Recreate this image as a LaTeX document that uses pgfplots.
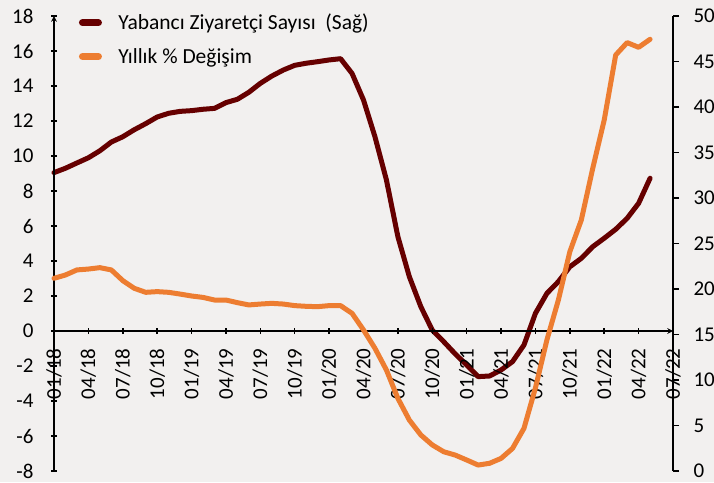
\documentclass[border=0pt]{standalone}
\usepackage{pgfplots}
\pgfplotsset{compat=1.18}
\usepackage{fontspec}
\setmainfont{Carlito}
\definecolor{dred}{RGB}{102,0,0}
\definecolor{lorange}{RGB}{237,125,49}
\definecolor{bgc}{RGB}{242,240,239}
\pgfplotstableread{
m v
0 32.79
1 33.27
2 33.85
3 34.42
4 35.19
5 36.15
6 36.73
7 37.50
8 38.17
9 38.90
10 39.31
11 39.52
12 39.60
13 39.75
14 39.85
15 40.48
16 40.85
17 41.62
18 42.60
19 43.40
20 44.06
21 44.58
22 44.81
23 44.98
24 45.17
25 45.31
26 43.69
27 40.77
28 36.73
29 31.98
30 25.75
31 21.35
32 18.06
33 15.48
34 14.21
35 12.87
36 11.65
37 10.37
38 10.44
39 11.10
40 12.02
41 13.85
42 17.33
43 19.52
44 20.81
45 22.44
46 23.37
47 24.65
48 25.58
49 26.56
50 27.77
51 29.42
52 32.17
}\visitors
\pgfplotstableread{
m v
0 3.01
1 3.20
2 3.49
3 3.54
4 3.62
5 3.49
6 2.88
7 2.44
8 2.21
9 2.25
10 2.21
11 2.11
12 2.00
13 1.92
14 1.77
15 1.77
16 1.62
17 1.49
18 1.54
19 1.58
20 1.54
21 1.45
22 1.41
23 1.39
24 1.45
25 1.45
26 1.01
27 0.06
28 -0.99
29 -2.23
30 -3.85
31 -5.09
32 -5.94
33 -6.51
34 -6.90
35 -7.09
36 -7.37
37 -7.66
38 -7.56
39 -7.28
40 -6.71
41 -5.56
42 -3.25
43 -0.51
44 1.77
45 4.53
46 6.34
47 9.30
48 12.06
49 15.77
50 16.48
51 16.21
52 16.67
}\change
\begin{document}
\begin{tikzpicture}[x=1pt,y=1pt]
\fill[bgc] (0,0) rectangle (714,482);
\pgfplotsset{
  every axis/.append style={
    at={(54pt,11pt)}, anchor=south west, scale only axis,
    width=619pt, height=455pt, xmin=0, xmax=54,
    axis line style={-, black, line width=1.5pt},
    tick style={black, line width=1.5pt},
    major tick length=6pt, tick align=outside,
    tick label style={font=\fontsize{21}{24}\selectfont},
    /pgf/number format/assume math mode=true,
    clip=false,
  }
}
\begin{axis}[
  ymin=0, ymax=50, ytick={0,5,...,50},
  axis x line=none, axis y line*=right,
  yticklabel style={xshift=11pt},
]
\addplot[dred, line width=5pt, line join=round, line cap=round] table[x=m,y=v] {\visitors};
\end{axis}
\begin{axis}[
  ymin=-8, ymax=18, ytick={-8,-6,...,18},
  axis x line=middle, axis y line=left,
  hide obscured x ticks=false,
  xtick={0,3,...,54},
  xticklabels={01/18,04/18,07/18,10/18,01/19,04/19,07/19,10/19,01/20,04/20,07/20,10/20,01/21,04/21,07/21,10/21,01/22,04/22,07/22},
  x tick label style={rotate=90, anchor=east, xshift=-11pt},
  yticklabel style={xshift=-14pt},
  legend style={draw=none, fill=none, at={(0.04,1.009)}, anchor=north west,
    inner sep=0pt, row sep=13pt, font=\fontsize{21.5}{24}\selectfont,
    nodes={inner sep=2pt}},
  legend cell align=left,
  legend image code/.code={\draw[#1, line width=7pt, line cap=round] (0pt,0pt) -- (16pt,0pt); \path (31.5pt,0pt);},
]
\addlegendimage{dred}
\addlegendentry{Yabancı Ziyaretçi Sayısı\ \ (Sağ)}
\addplot[lorange, line width=5pt, line join=round, line cap=round] table[x=m,y=v] {\change};
\addlegendentry{Yıllık \% Değişim}
\end{axis}
\pgfresetboundingbox
\useasboundingbox (0,0) rectangle (714,482);
\end{tikzpicture}
\end{document}
